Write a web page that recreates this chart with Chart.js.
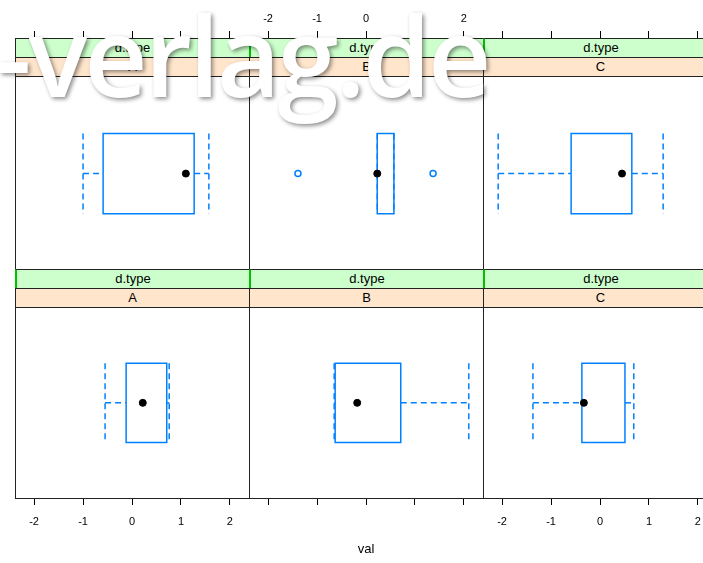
<!DOCTYPE html>
<html>
<head>
<meta charset="utf-8">
<script src="https://cdn.jsdelivr.net/npm/chart.js@4.4.0/dist/chart.umd.min.js"></script>
<style>
  body { margin: 0; width: 703px; height: 563px; overflow: hidden; background: #fff; position: relative;
         font-family: 'Liberation Sans', Arial, sans-serif; }
  canvas { position: absolute; }
  .strip { position: absolute; height: 20px; box-sizing: border-box; border: 1px solid #222;
           text-align: center; font-size: 13px; line-height: 18px; color: #000; }
  .green { background: #ccffcc; }
  .peach { background: #ffe5cc; }
  .lvl { border-left: 2px solid #00c000; }
  #wm { position: absolute; left: -4px; top: -1px; font-family: 'Open Sans', sans-serif; font-size: 110px;
        font-weight: 600; line-height: 1; color: #fff; white-space: nowrap; pointer-events: none;
        letter-spacing: -3px; text-shadow: 2px 2px 4px rgba(0,0,0,0.45); }
</style>
</head>
<body>
<script>
var groups = ['A', 'B', 'C'];
var stripName = 'd.type';
var xTicks = [-2, -1, 0, 1, 2];
var xLimit = 2.39;
var xTitle = 'val';

// upper row of panels
var upLow = [-1.00, 0.23, -2.08];
var upQ1 = [-0.59, 0.23, -0.59];
var upMedian = [1.10, 0.23, 0.45];
var upQ3 = [1.27, 0.57, 0.65];
var upHigh = [1.57, 0.57, 1.29];
var upOutliers = [[], [-1.39, 1.37], []];

// lower row of panels
var lowLow = [-0.55, -0.65, -1.37];
var lowQ1 = [-0.12, -0.63, -0.37];
var lowMedian = [0.22, -0.18, -0.33];
var lowQ3 = [0.71, 0.71, 0.51];
var lowHigh = [0.76, 2.10, 0.69];
var lowOutliers = [[], [], []];

var blue = '#0080ff';
var frame = '#222';
var tickFont = { family: "'Liberation Sans', Arial, sans-serif", size: 11 };
var boxTop = 95, boxBottom = 175, boxMid = 135;

function boxDatasets(lo, q1, med, q3, hi, out) {
  function seg(pts, dashed) {
    return {
      data: pts, showLine: true, borderColor: blue, borderWidth: 1.5,
      borderDash: dashed ? [6, 4] : [], borderCapStyle: dashed ? 'butt' : 'square',
      pointRadius: 0, fill: false, xAxisID: 'x', yAxisID: 'y'
    };
  }
  // first dataset is painted last (on top)
  return [
    { data: [{ x: med, y: boxMid }], pointRadius: 3.5, pointBackgroundColor: '#000',
      pointBorderColor: '#000', xAxisID: 'x', yAxisID: 'y' },
    { data: out.map(function (v) { return { x: v, y: boxMid }; }), pointRadius: 3,
      pointBorderWidth: 1.5, pointBorderColor: blue, pointBackgroundColor: '#fff', xAxisID: 'x', yAxisID: 'y' },
    seg([{ x: q1, y: boxTop }, { x: q3, y: boxTop }, { x: q3, y: boxBottom }, { x: q1, y: boxBottom }, { x: q1, y: boxTop }], false),
    seg([{ x: lo, y: boxMid }, { x: q1, y: boxMid }], true),
    seg([{ x: q3, y: boxMid }, { x: hi, y: boxMid }], true),
    seg([{ x: lo, y: boxTop }, { x: lo, y: boxBottom }], true),
    seg([{ x: hi, y: boxTop }, { x: hi, y: boxBottom }], true)
  ];
}

function xAxis(pos, marks, labels, height, title) {
  return {
    type: 'linear', position: pos, min: -xLimit, max: xLimit,
    afterBuildTicks: function (s) { s.ticks = xTicks.map(function (v) { return { value: v }; }); },
    afterFit: function (s) { s.height = height; },
    grid: { display: marks, drawOnChartArea: false, drawTicks: true, tickLength: 7, color: '#000', tickColor: '#000' },
    border: { display: true, color: frame, width: 1 },
    ticks: { display: labels, color: '#000', padding: pos == 'top' ? 5 : 10, font: tickFont },
    title: title ? { display: true, text: title, color: '#000', padding: { top: 0, bottom: 6 },
                     font: { family: tickFont.family, size: 13 } } : { display: false }
  };
}

function makePanel(row, col) {
  var c = document.createElement('canvas');
  var top = row == 0 ? 0 : 269;
  var h = row == 0 ? 270 : 294;
  c.width = 234; c.height = h;
  c.style.left = (15 + 234 * col) + 'px';
  c.style.top = top + 'px';
  document.body.appendChild(c);

  var ds = row == 0
    ? boxDatasets(upLow[col], upQ1[col], upMedian[col], upQ3[col], upHigh[col], upOutliers[col])
    : boxDatasets(lowLow[col], lowQ1[col], lowMedian[col], lowQ3[col], lowHigh[col], lowOutliers[col]);

  var scales = {
    y: { type: 'linear', position: 'left', min: 0, max: 231, reverse: true,
         grid: { display: false }, ticks: { display: false },
         border: { display: true, color: frame, width: 1 },
         afterFit: function (s) { s.width = 0; } }
  };
  if (row == 0) {
    scales.x = xAxis('bottom', false, false, 0, null);
    scales.x2 = xAxis('top', true, col == 1, 38, null);
  } else {
    scales.x = xAxis('bottom', true, col != 1, 65, col == 1 ? xTitle : null);
  }

  new Chart(c.getContext('2d'), {
    type: 'scatter',
    data: { datasets: ds },
    options: {
      responsive: false, animation: false, events: [],
      layout: { padding: 0, autoPadding: false },
      scales: scales,
      plugins: { legend: { display: false }, tooltip: { enabled: false } }
    }
  });

  // strips: variable name on green, level on peach
  var st = row == 0 ? 38 : 269;
  var g = document.createElement('div');
  g.className = 'strip green' + (row == 0 && col == 0 ? '' : ' lvl');
  g.style.left = (15 + 234 * col) + 'px'; g.style.width = '235px'; g.style.top = st + 'px';
  g.textContent = stripName;
  document.body.appendChild(g);
  var p = document.createElement('div');
  p.className = 'strip peach';
  p.style.left = (15 + 234 * col) + 'px'; p.style.width = '235px'; p.style.top = (st + 19) + 'px';
  p.textContent = groups[col];
  document.body.appendChild(p);
}

for (var r = 0; r < 2; r++) {
  for (var k = 0; k < 3; k++) makePanel(r, k);
}

var wm = document.createElement('div');
wm.id = 'wm';
wm.textContent = '-verlag.de';
document.body.appendChild(wm);
</script>
</body>
</html>
